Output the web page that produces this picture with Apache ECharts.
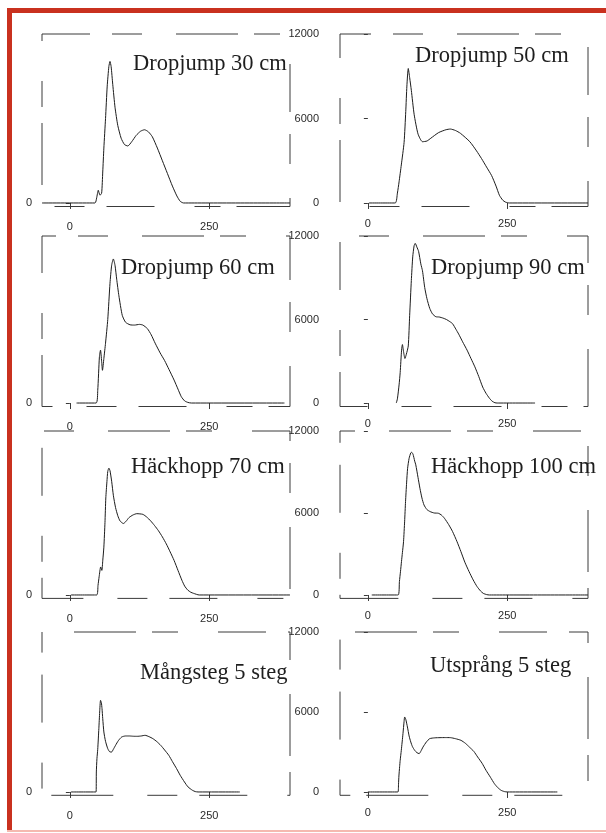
<!DOCTYPE html>
<html>
<head>
<meta charset="utf-8">
<script src="https://cdn.jsdelivr.net/npm/echarts@6/dist/echarts.min.js"></script>
<style>
  html, body { margin: 0; padding: 0; background: #ffffff; }
  #chart { width: 606px; height: 833px; }
</style>
</head>
<body>
<div id="chart"></div>
<script>
// Ground reaction force (N) against time (ms) for eight jump exercises.
const panelTitles = [
  'Dropjump 30 cm', 'Dropjump 50 cm',
  'Dropjump 60 cm', 'Dropjump 90 cm',
  'Häckhopp 70 cm', 'Häckhopp 100 cm',
  'Mångsteg 5 steg', 'Utsprång 5 steg'
];

const xTickValues = [0, 250];
const yTickValuesOuter = [0];
const yTickValuesInner = [0, 6000, 12000];

const dropjump30 = [[-50,0],[45,0],[48,350],[51,900],[54,550],[57,700],[59,2200],[61,3900],[64,6000],[67,8300],[70,9700],[72,10050],[74,9700],[77,8400],[81,6800],[86,5500],[92,4600],[98,4150],[104,4050],[111,4350],[119,4800],[127,5100],[134,5200],[141,5050],[148,4700],[157,3900],[166,3000],[175,2100],[184,1200],[192,500],[198,120],[204,0],[395,0]];
const dropjump50 = [[2,0],[49,0],[53,700],[56,1500],[60,2700],[65,4300],[68,6500],[70,8300],[72.5,9550],[75,8900],[78,8000],[83,6300],[90,4900],[98,4350],[106,4400],[113,4600],[127,5000],[140,5200],[148,5250],[157,5150],[166,4950],[183,4350],[195,3700],[204,3150],[213,2550],[222,1950],[230,1200],[236,550],[242,200],[247,60],[254,0],[395,0]];
const dropjump60 = [[12,0],[47,0],[50,900],[53,3300],[55,3800],[57,3000],[58.5,2350],[61,3200],[64,4300],[68,6000],[72,8600],[75,9900],[78,10350],[81,9900],[84,8900],[88,7700],[94,6300],[100,5800],[108,5620],[116,5600],[125,5650],[131,5600],[139,5350],[146,4900],[153,4300],[162,3600],[170,3050],[178,2400],[187,1650],[194,1000],[200,450],[206,150],[212,40],[218,0],[385,0]];
const dropjump90 = [[51,0],[53,300],[56,1300],[58,2200],[60.5,3800],[62,4200],[64,3700],[66.5,3200],[69,3500],[72.5,4100],[75,6300],[78,8800],[80.5,10500],[83,11300],[85,11470],[88,11200],[91,10900],[95,10000],[98,9500],[102,8300],[106,7500],[111,6800],[116,6400],[122,6200],[128,6180],[135,6100],[141,6000],[147,5850],[152,5700],[158,5300],[163,4950],[170,4400],[178,3800],[185,3200],[192,2600],[199,1900],[206,1150],[212,700],[218,350],[223,130],[228,20],[232,0],[300,0]];
const hackhopp70 = [[2,0],[48,0],[50.5,700],[52.5,1330],[55.3,2050],[57.4,1800],[59,2500],[61,3500],[63,5300],[64.5,7100],[66.5,8300],[68,9040],[70,9280],[72,9100],[75,8320],[78,7300],[82,6390],[86,5800],[90,5420],[96,5230],[101,5400],[106,5660],[113,5850],[120,5950],[131,5900],[138,5700],[145,5420],[152,5080],[159,4700],[166,4250],[173,3740],[180,3150],[187,2530],[194,1800],[201,1080],[206,650],[211.5,360],[217,200],[222,120],[232,0],[395,0]];
const hackhopp100 = [[7,0],[54.4,0],[56.6,980],[58.5,1700],[60.3,2440],[62,3100],[64,3900],[66,5400],[67.6,6830],[69.5,8200],[71.3,9270],[74,10000],[77,10400],[78.7,10440],[81,10300],[84,9800],[86,9520],[90,8600],[93.4,7810],[97,7100],[100.7,6590],[106,6250],[111.8,6100],[119,6000],[126.5,5980],[132,5850],[137.5,5610],[145,5150],[152,4640],[160,3900],[167,3170],[174,2400],[181.6,1710],[189,1100],[196,610],[202,300],[207,120],[213,30],[218,0],[395,0]];
const mangsteg5 = [[2,0],[47,0],[47.5,1500],[48.6,2500],[50,3200],[52,4750],[53.5,6000],[55,6875],[56.5,6700],[57.7,6250],[59,5500],[61,4500],[64,3800],[68,3250],[72,3000],[75,3000],[78,3200],[82,3500],[87,3850],[93,4125],[100,4200],[107,4200],[114,4180],[121,4175],[128,4200],[135,4250],[142,4150],[149,4000],[156,3780],[163,3500],[170,3150],[177.5,2750],[184,2280],[191.5,1750],[198,1250],[205.6,750],[212,380],[220,125],[225,30],[230,0],[305,0]];
const utsprang5 = [[0,0],[54,0],[55,600],[55.7,1200],[57,1900],[58,2375],[60,3125],[63,4375],[65,5300],[66,5625],[68,5450],[71,4875],[74,4200],[77,3750],[80,3400],[84,3125],[88,2950],[92,2875],[95,3050],[99,3375],[105,3750],[111,4000],[120,4060],[129.5,4075],[139,4080],[148,4075],[157,4000],[167,3875],[175,3650],[182,3375],[190,3050],[197,2625],[205,2150],[212,1625],[220,1100],[227,625],[233,330],[239,125],[245,30],[250,0],[340,0]];

const curves = [dropjump30, dropjump50, dropjump60, dropjump90, hackhopp70, hackhopp100, mangsteg5, utsprang5];

// Panel layout: two columns, four rows (pixels).
const colLeft = [42, 340];
const panelWidth = 248;
const rowTop = [34, 236, 431, 632];
const rowHeight = [172.5, 170.5, 167.4, 163.3];
const titlePos = [[133, 53], [415, 45], [121, 257], [431, 257], [131, 456], [431, 456], [140, 662], [430, 655]];

const inkAxis = '#3a3a3a';
const inkText = '#2a2a2a';
const brokenFrame = [48, 22, 30, 34, 62, 16, 26, 40];
const plainNumber = v => String(v);

const grid = [], xAxis = [], yAxis = [], series = [], title = [];
curves.forEach((data, i) => {
  const col = i % 2, row = Math.floor(i / 2);
  grid.push({
    left: colLeft[col], top: rowTop[row], width: panelWidth, height: rowHeight[row],
    show: true, backgroundColor: 'transparent',
    borderColor: inkAxis, borderWidth: 1, borderType: brokenFrame,
    borderDashOffset: i * 17
  });
  xAxis.push({
    gridIndex: i, type: 'value', min: -50, max: 395,
    splitLine: { show: false },
    axisLine: { show: false },
    axisTick: { show: true, inside: false, length: 6, customValues: xTickValues, lineStyle: { color: inkAxis, width: 1 } },
    axisLabel: { customValues: xTickValues, formatter: plainNumber, margin: col === 0 ? 15 : 12, color: inkText, fontFamily: 'Liberation Sans', fontSize: 11 }
  });
  const yVals = col === 0 ? yTickValuesOuter : yTickValuesInner;
  yAxis.push({
    gridIndex: i, type: 'value', min: -250, max: 12000,
    splitLine: { show: false },
    axisLine: { show: false },
    axisTick: { show: true, length: 4, customValues: yVals, lineStyle: { color: inkAxis, width: 1 } },
    axisLabel: { customValues: yVals, formatter: plainNumber, margin: col === 0 ? 10 : 21, color: inkText, fontFamily: 'Liberation Sans', fontSize: 11 }
  });
  series.push({
    type: 'line', xAxisIndex: i, yAxisIndex: i, data: data,
    showSymbol: false, smooth: 0.2, animation: false,
    lineStyle: { color: '#1c1c1c', width: 1 }
  });
  title.push({
    text: panelTitles[i], left: titlePos[i][0], top: titlePos[i][1], padding: 0,
    textStyle: { fontFamily: 'Liberation Serif', fontSize: 22.5, fontWeight: 'normal', color: '#1e1e1e' }
  });
});

const chart = echarts.init(document.getElementById('chart'), null, { renderer: 'canvas' });
chart.setOption({
  backgroundColor: '#ffffff',
  animation: false,
  title: title,
  grid: grid,
  xAxis: xAxis,
  yAxis: yAxis,
  series: series,
  graphic: [
    { type: 'rect', shape: { x: 7, y: 8, width: 599, height: 5 }, style: { fill: '#c9311f' }, silent: true },
    { type: 'rect', shape: { x: 7, y: 8, width: 5, height: 823 }, style: { fill: '#c9311f' }, silent: true },
    { type: 'rect', shape: { x: 7, y: 830, width: 599, height: 2 }, style: { fill: '#f5b9b0' }, silent: true }
  ]
});
</script>
</body>
</html>
